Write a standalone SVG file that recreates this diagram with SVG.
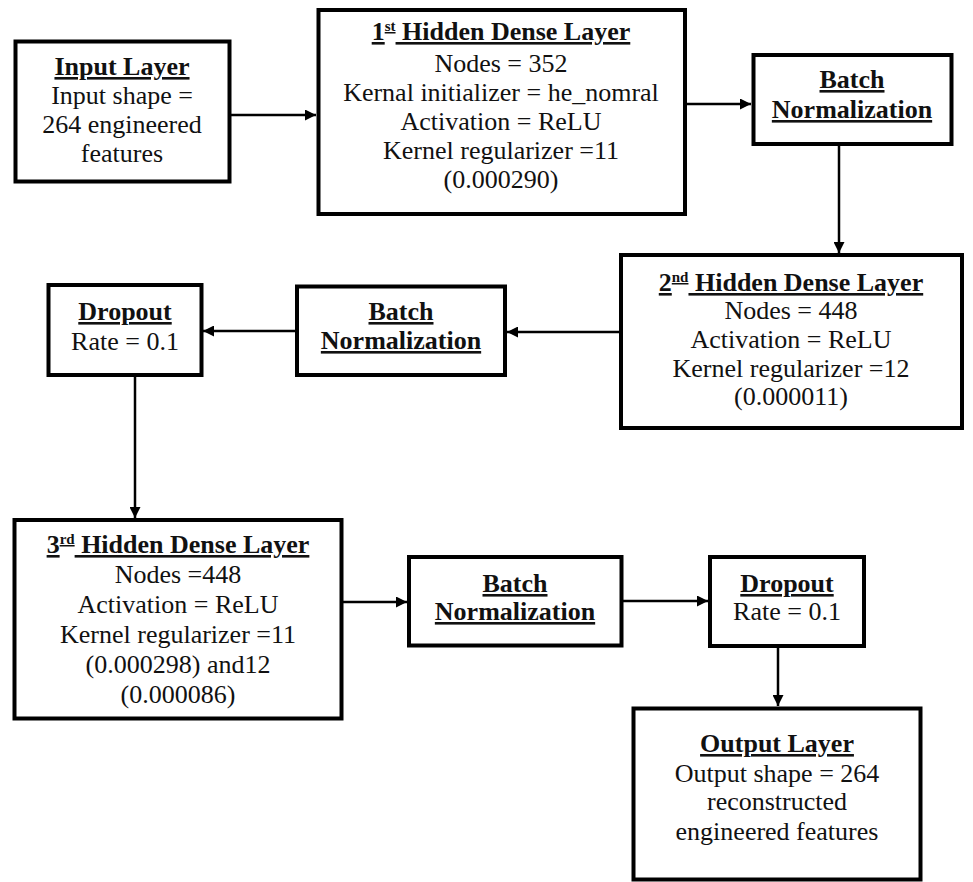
<svg xmlns="http://www.w3.org/2000/svg" width="973" height="882" viewBox="0 0 973 882" font-family="'Liberation Serif', 'DejaVu Serif', serif">
<defs>
<marker id="ah" viewBox="0 0 10 10" refX="10" refY="5" markerWidth="11" markerHeight="11" markerUnits="userSpaceOnUse" orient="auto">
<path d="M0,0 L10,5 L0,10 z" fill="#000"/>
</marker>
<style>
.box{fill:#fff;stroke:#000;stroke-width:4}
.t{font-family:'Liberation Serif','DejaVu Serif',serif;font-size:26px;fill:#111;text-anchor:middle}
.h{font-weight:bold;text-decoration:underline}
.sup{font-size:15px}
.c{stroke:#000;stroke-width:2.5;fill:none;marker-end:url(#ah)}
</style>
</defs>
<rect width="973" height="882" fill="#fff"/>
<g id="connectors">
<line class="c" x1="231" y1="115" x2="316" y2="115"/>
<line class="c" x1="687" y1="104" x2="751" y2="104"/>
<line class="c" x1="839" y1="146" x2="839" y2="253"/>
<line class="c" x1="619" y1="332" x2="507" y2="332"/>
<line class="c" x1="295" y1="331" x2="203" y2="331"/>
<line class="c" x1="135" y1="377" x2="135" y2="518"/>
<line class="c" x1="343" y1="602" x2="407" y2="602"/>
<line class="c" x1="623" y1="601" x2="708" y2="601"/>
<line class="c" x1="778" y1="647" x2="778" y2="706"/>
</g>
<g id="input">
<rect class="box" x="15.5" y="41.5" width="214" height="140"/>
<text class="t h" x="122" y="75">Input Layer</text>
<text class="t" x="122" y="104">Input shape =</text>
<text class="t" x="122" y="133">264 engineered</text>
<text class="t" x="122" y="162">features</text>
</g>
<g id="hidden1">
<rect class="box" x="318.5" y="10" width="366.5" height="204"/>
<text class="t h" x="501" y="40">1<tspan class="sup" dy="-9">st</tspan><tspan dy="9"> Hidden Dense Layer</tspan></text>
<text class="t" x="501" y="72">Nodes = 352</text>
<text class="t" x="501" y="101">Kernal initializer = he_nomral</text>
<text class="t" x="501" y="130">Activation = ReLU</text>
<text class="t" x="501" y="159">Kernel regularizer =11</text>
<text class="t" x="501" y="188">(0.000290)</text>
</g>
<g id="bn1">
<rect class="box" x="753.5" y="55" width="198" height="89"/>
<text class="t h" x="852" y="88">Batch</text>
<text class="t h" x="852" y="118">Normalization</text>
</g>
<g id="hidden2">
<rect class="box" x="621" y="255" width="341" height="173"/>
<text class="t h" x="791" y="291">2<tspan class="sup" dy="-9">nd</tspan><tspan dy="9"> Hidden Dense Layer</tspan></text>
<text class="t" x="791" y="319">Nodes = 448</text>
<text class="t" x="791" y="348">Activation = ReLU</text>
<text class="t" x="791" y="377">Kernel regularizer =12</text>
<text class="t" x="791" y="405">(0.000011)</text>
</g>
<g id="bn2">
<rect class="box" x="297" y="286.5" width="208" height="88.5"/>
<text class="t h" x="401" y="320">Batch</text>
<text class="t h" x="401" y="349">Normalization</text>
</g>
<g id="dropout1">
<rect class="box" x="48.5" y="285" width="153" height="90"/>
<text class="t h" x="125" y="320">Dropout</text>
<text class="t" x="125" y="350">Rate = 0.1</text>
</g>
<g id="hidden3">
<rect class="box" x="14.5" y="520" width="327" height="198.5"/>
<text class="t h" x="178" y="553">3<tspan class="sup" dy="-9">rd</tspan><tspan dy="9"> Hidden Dense Layer</tspan></text>
<text class="t" x="178" y="583">Nodes =448</text>
<text class="t" x="178" y="613">Activation = ReLU</text>
<text class="t" x="178" y="643">Kernel regularizer =11</text>
<text class="t" x="178" y="673">(0.000298) and12</text>
<text class="t" x="178" y="703">(0.000086)</text>
</g>
<g id="bn3">
<rect class="box" x="409" y="557" width="212.5" height="88.5"/>
<text class="t h" x="515" y="592">Batch</text>
<text class="t h" x="515" y="620">Normalization</text>
</g>
<g id="dropout2">
<rect class="box" x="710" y="557" width="154" height="89"/>
<text class="t h" x="787" y="592">Dropout</text>
<text class="t" x="787" y="620">Rate = 0.1</text>
</g>
<g id="output">
<rect class="box" x="633.5" y="708.5" width="287" height="171"/>
<text class="t h" x="777" y="752">Output Layer</text>
<text class="t" x="777" y="782">Output shape = 264</text>
<text class="t" x="777" y="810">reconstructed</text>
<text class="t" x="777" y="840">engineered features</text>
</g>
</svg>
